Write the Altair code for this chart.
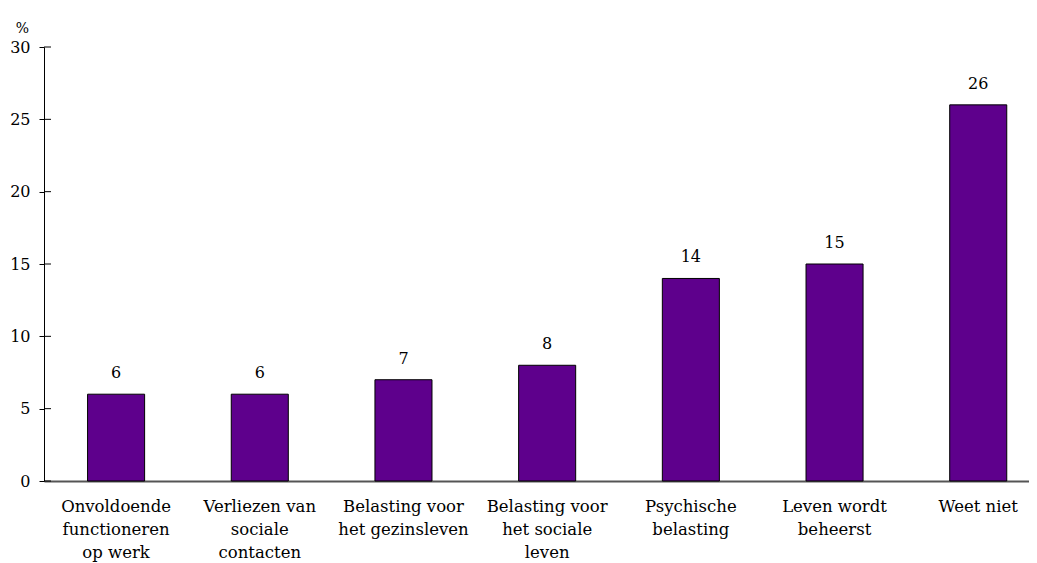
import altair as alt
import pandas as pd

categories = [
    "Onvoldoende|functioneren|op werk",
    "Verliezen van|sociale|contacten",
    "Belasting voor|het gezinsleven",
    "Belasting voor|het sociale|leven",
    "Psychische|belasting",
    "Leven wordt|beheerst",
    "Weet niet",
]
values = [6, 6, 7, 8, 14, 15, 26]
y_ticks = [0, 5, 10, 15, 20, 25, 30]

df = pd.DataFrame({"cat": categories, "val": values})
ticks_df = pd.DataFrame({"t": y_ticks})

FONT = "DejaVu Serif, DejaVu Sans"
FS = 16
x_scale = alt.Scale(domain=categories, paddingInner=0.603, paddingOuter=0.229, align=0.662)
y_scale = alt.Scale(domain=[0, 30])

bars = alt.Chart(df).mark_bar(color="#5E008C", stroke="#000000", strokeWidth=1).encode(
    x=alt.X("cat:N", scale=x_scale, sort=None,
            axis=alt.Axis(title=None, labelExpr="split(datum.label, '|')", labelAngle=0,
                          labelFont=FONT, labelFontSize=16.5, labelColor="#000000",
                          labelLineHeight=23, labelPadding=17, labelBaseline="top",
                          labelLimit=300, ticks=False, domainColor="#555555",
                          domainWidth=2)),
    y=alt.Y("val:Q", scale=y_scale,
            axis=alt.Axis(values=y_ticks, title="%", titleAngle=0, titleFont=FONT,
                          titleFontSize=14, titleFontWeight="normal", titleColor="#000000",
                          titleX=-22, titleY=-12, titleAlign="center",
                          labelFont=FONT, labelFontSize=FS, labelColor="#000000",
                          labelPadding=9, tickSize=5, tickColor="#000000",
                          domainColor="#000000", grid=False)),
)

labels = alt.Chart(df).mark_text(dy=-21, font=FONT, fontSize=FS, color="#000000").encode(
    x=alt.X("cat:N", scale=x_scale, sort=None),
    y=alt.Y("val:Q", scale=y_scale),
    text="val:Q",
)

tick_right = alt.Chart(ticks_df).mark_rule(color="#000000", strokeWidth=1).encode(
    x=alt.value(0), x2=alt.value(7),
    y=alt.Y("t:Q", scale=y_scale),
)

chart = alt.layer(bars, labels, tick_right).properties(
    width=985, height=434,
    autosize=alt.AutoSizeParams(type="none"),
    padding={"left": 36, "top": 39, "right": 0, "bottom": 90},
).configure_view(stroke=None)

chart.save("out.html", embed_options={"renderer": "svg", "actions": False})
